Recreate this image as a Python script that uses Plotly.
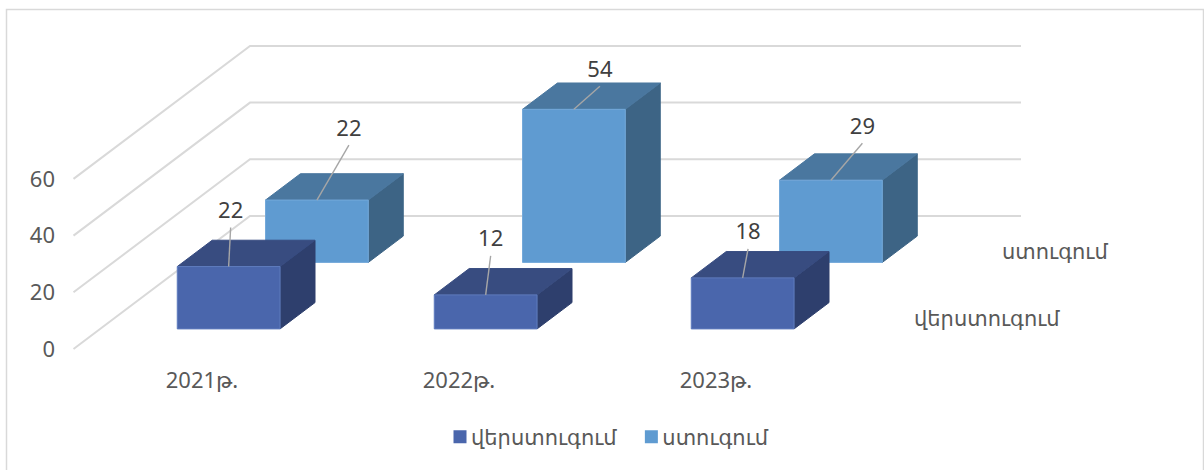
import plotly.graph_objects as go

# ---- data ----
categories = ["2021թ.", "2022թ.", "2023թ."]
series_names = ["վերստուգում", "ստուգում"]
verstugum = [22, 12, 18]
stugum = [22, 54, 29]
y_ticks = [0, 20, 40, 60]

# ---- style / geometry ----
W, H = 1204, 470
PLOT_L, PLOT_B = 56, 365           # plot area edges in page pixels
PX_PER_CAT = 257.0
PX_PER_VAL = 2.835
ORIGIN_PX, ORIGIN_PY = 73.5, 349.0  # page pixel of category 0 left edge, value 0
WALL_DX, WALL_DY = 176.5, 133.0     # pixels of full depth
DX_T = WALL_DX / PX_PER_CAT         # x units per unit of depth
DY_T = WALL_DY / PX_PER_VAL         # value units per unit of depth
BAR_HALF_W = 0.2
BAR_HALF_D = 0.099
SERIES_T = [0.25, 0.75]
FACE_COLORS = [
    dict(front="#4A66AC", top="#384C80", side="#2E3F6D", edge="#5F7CBE"),
    dict(front="#5F9BD1", top="#4A779F", side="#3D6485", edge="#74A9DA"),
]
TEXT_AXIS = "#595959"
TEXT_LABEL = "#404040"
GRID = "#D9D9D9"
LEADER = "#A6A6A6"
FONT = "Noto Sans, DejaVu Sans, sans-serif"
# leader end offsets (pixels right, pixels up) from each bar's top front edge centre
LEADER_OFFS = [
    [(2, 39), (5, 39), (5.4, 29)],
    [(32, 55), (26, 23), (31.5, 37)],
]
LABEL_GAP = 15


def proj(u, v, t):
    """Oblique projection: category position, value, depth -> axis coordinates."""
    return u + DX_T * t, v + DY_T * t


def poly(points):
    xs, ys = [], []
    for (u, v, t) in points:
        x, y = proj(u, v, t)
        xs.append(x)
        ys.append(y)
    return xs, ys


fig = go.Figure()

# walls: gridlines
gx, gy = [], []
for v in y_ticks:
    xs, ys = poly([(0, v, 0), (0, v, 1), (3, v, 1)])
    gx += xs + [None]
    gy += ys + [None]
fig.add_trace(go.Scatter(x=gx, y=gy, mode="lines", line=dict(color=GRID, width=2),
                         showlegend=False, hoverinfo="skip"))

# bars, back series first
for s in [1, 0]:
    vals = [verstugum, stugum][s]
    c = FACE_COLORS[s]
    t0, t1 = SERIES_T[s] - BAR_HALF_D, SERIES_T[s] + BAR_HALF_D
    faces = {"side": ([], []), "top": ([], []), "front": ([], [])}
    for i, v in enumerate(vals):
        u0, u1 = i + 0.5 - BAR_HALF_W, i + 0.5 + BAR_HALF_W
        shapes_ = {
            "front": [(u0, 0, t0), (u1, 0, t0), (u1, v, t0), (u0, v, t0), (u0, 0, t0)],
            "top": [(u0, v, t0), (u1, v, t0), (u1, v, t1), (u0, v, t1), (u0, v, t0)],
            "side": [(u1, 0, t0), (u1, 0, t1), (u1, v, t1), (u1, v, t0), (u1, 0, t0)],
        }
        for k, pts in shapes_.items():
            xs, ys = poly(pts)
            faces[k][0].extend(xs + [None])
            faces[k][1].extend(ys + [None])
    for k in ["side", "top", "front"]:
        edge = c["edge"] if k == "front" else c[k]
        fig.add_trace(go.Scatter(x=faces[k][0], y=faces[k][1], mode="lines", fill="toself",
                                 fillcolor=c[k], line=dict(color=edge, width=1),
                                 showlegend=False, hoverinfo="skip"))

# leaders and data labels
for s in [1, 0]:
    vals = [verstugum, stugum][s]
    t0 = SERIES_T[s] - BAR_HALF_D
    lx, ly, tx, ty, tt = [], [], [], [], []
    for i, v in enumerate(vals):
        x, y = proj(i + 0.5, v, t0)
        ox, oy = LEADER_OFFS[s][i]
        ex, ey = x + ox / PX_PER_CAT, y + oy / PX_PER_VAL
        lx += [x, ex, None]
        ly += [y, ey, None]
        tx.append(ex)
        ty.append(ey + LABEL_GAP / PX_PER_VAL)
        tt.append(str(v))
    fig.add_trace(go.Scatter(x=lx, y=ly, mode="lines", line=dict(color=LEADER, width=1.4),
                             showlegend=False, hoverinfo="skip"))
    fig.add_trace(go.Scatter(x=tx, y=ty, mode="text", text=tt, textposition="middle center",
                             textfont=dict(family=FONT, size=22, color=TEXT_LABEL),
                             showlegend=False, hoverinfo="skip"))

# legend entries
for s in [0, 1]:
    fig.add_trace(go.Scatter(x=[None], y=[None], mode="markers", name=series_names[s],
                             marker=dict(symbol="square", size=13, color=FACE_COLORS[s]["front"])))

# depth axis labels
annotations = []
for s in [0, 1]:
    x, y = proj(3, 0, SERIES_T[s])
    annotations.append(dict(x=x, y=y, xref="x", yref="y", text=series_names[s], showarrow=False,
                            xanchor="left", yanchor="middle", xshift=23.5, yshift=-2,
                            font=dict(family=FONT, size=21, color=TEXT_AXIS)))


def paper_x(p):
    return (p - PLOT_L) / (W - PLOT_L)


def paper_y(p):
    return (PLOT_B - p) / PLOT_B


fig.update_layout(
    width=W, height=H,
    margin=dict(l=PLOT_L, r=0, t=0, b=H - PLOT_B, pad=0),
    paper_bgcolor="white", plot_bgcolor="white",
    showlegend=True,
    legend=dict(orientation="h", x=paper_x(431), y=paper_y(437), xanchor="left", yanchor="middle",
                font=dict(family=FONT, size=21, color=TEXT_AXIS), bgcolor="rgba(0,0,0,0)"),
    annotations=annotations,
    shapes=[dict(type="rect", xref="paper", yref="paper",
                 x0=paper_x(6.5), x1=paper_x(1203.5), y0=paper_y(480), y1=paper_y(9.5),
                 line=dict(color="#D9D9D9", width=1.5), layer="below")],
    xaxis=dict(range=[(PLOT_L - ORIGIN_PX) / PX_PER_CAT, (W - ORIGIN_PX) / PX_PER_CAT],
               tickmode="array", tickvals=[i + 0.5 for i in range(len(categories))],
               ticktext=categories, showgrid=False, zeroline=False, showline=False,
               ticks="", tickfont=dict(family=FONT, size=22, color=TEXT_AXIS)),
    yaxis=dict(range=[(ORIGIN_PY - PLOT_B) / PX_PER_VAL, ORIGIN_PY / PX_PER_VAL],
               tickmode="array", tickvals=y_ticks, showgrid=False, zeroline=False, showline=False,
               ticks="", tickfont=dict(family=FONT, size=22, color=TEXT_AXIS)),
)

fig.write_html(
    "out.html",
    config=dict(displayModeBar=False),
    post_script=(
        "document.body.style.margin='0';"
        "document.querySelectorAll('.legendpoints').forEach(function(g){"
        "g.setAttribute('transform','translate(9,0)');});"
    ),
)
